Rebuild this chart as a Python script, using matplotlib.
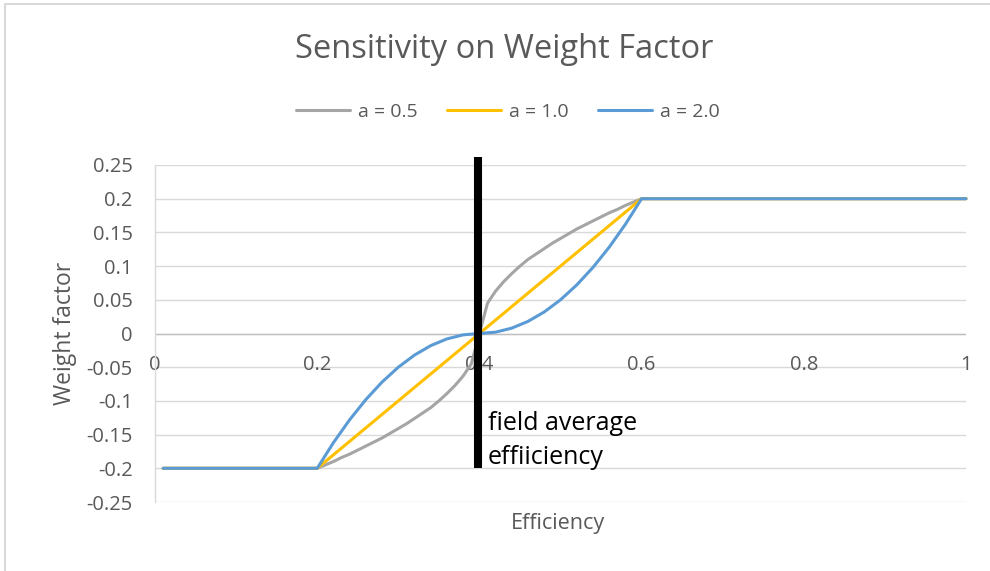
import matplotlib
matplotlib.use("Agg")
import matplotlib.pyplot as plt
from matplotlib.patches import Rectangle

# ---- data ----
efficiency = [0.01, 0.20, 0.21, 0.22, 0.23, 0.24, 0.25, 0.26, 0.27, 0.28, 0.29, 0.30,
              0.31, 0.32, 0.33, 0.34, 0.35, 0.36, 0.37, 0.38, 0.39, 0.40,
              0.41, 0.42, 0.43, 0.44, 0.45, 0.46, 0.47, 0.48, 0.49, 0.50,
              0.51, 0.52, 0.53, 0.54, 0.55, 0.56, 0.57, 0.58, 0.59, 0.60, 1.00]

w_a05 = [-0.200, -0.200, -0.195, -0.190, -0.184, -0.179, -0.173, -0.167, -0.161, -0.155, -0.148, -0.141,
         -0.134, -0.126, -0.118, -0.110, -0.100, -0.089, -0.077, -0.063, -0.045, 0.000,
         0.045, 0.063, 0.077, 0.089, 0.100, 0.110, 0.118, 0.126, 0.134, 0.141,
         0.148, 0.155, 0.161, 0.167, 0.173, 0.179, 0.184, 0.190, 0.195, 0.200, 0.200]

w_a10 = [-0.20, -0.20, -0.19, -0.18, -0.17, -0.16, -0.15, -0.14, -0.13, -0.12, -0.11, -0.10,
         -0.09, -0.08, -0.07, -0.06, -0.05, -0.04, -0.03, -0.02, -0.01, 0.00,
         0.01, 0.02, 0.03, 0.04, 0.05, 0.06, 0.07, 0.08, 0.09, 0.10,
         0.11, 0.12, 0.13, 0.14, 0.15, 0.16, 0.17, 0.18, 0.19, 0.20, 0.20]

w_a20 = [-0.200, -0.200, -0.181, -0.162, -0.145, -0.128, -0.113, -0.098, -0.085, -0.072, -0.061, -0.050,
         -0.041, -0.032, -0.025, -0.018, -0.013, -0.008, -0.005, -0.002, -0.001, 0.000,
         0.001, 0.002, 0.005, 0.008, 0.013, 0.018, 0.025, 0.032, 0.041, 0.050,
         0.061, 0.072, 0.085, 0.098, 0.113, 0.128, 0.145, 0.162, 0.181, 0.200, 0.200]

series_labels = ["a = 0.5", "a = 1.0", "a = 2.0"]
series_colors = ["#a5a5a5", "#ffc000", "#5b9bd5"]
marker_x = 0.398
marker_y = [-0.2, 0.262]
annotation = "field average\neffiiciency"
x_ticks = [0, 0.2, 0.4, 0.6, 0.8, 1]
x_tick_labels = ["0", "0.2", "0.4", "0.6", "0.8", "1"]
y_ticks = [-0.25, -0.2, -0.15, -0.1, -0.05, 0, 0.05, 0.1, 0.15, 0.2, 0.25]
y_tick_labels = ["-0.25", "-0.2", "-0.15", "-0.1", "-0.05", "0", "0.05", "0.1", "0.15", "0.2", "0.25"]

plt.rcParams["font.family"] = ["Open Sans", "DejaVu Sans"]
txt = "#595959"

fig = plt.figure(figsize=(9.9, 5.71), dpi=100)
fig.patches.append(Rectangle((5/990, -0.1), 1.2, 1 - 4/571 + 0.1, transform=fig.transFigure,
                             facecolor="white", edgecolor="#d9d9d9", lw=1.5, zorder=-10))
ax = fig.add_axes([155/990, 1 - 502/571, (966 - 155)/990, (502 - 165)/571])
ax.set_xlim(0, 1)
ax.set_ylim(-0.25, 0.25)
ax.set_facecolor("none")

for yt in y_ticks:
    ax.axhline(yt, color="#d9d9d9", lw=1, zorder=0)
ax.axhline(0, color="#bfbfbf", lw=1, zorder=0.5)
for s in ["top", "right", "bottom"]:
    ax.spines[s].set_visible(False)
ax.spines["left"].set_color("#d9d9d9")
ax.spines["left"].set_linewidth(1)

lines = []
for ys, lab, col in zip([w_a05, w_a10, w_a20], series_labels, series_colors):
    ln, = ax.plot(efficiency, ys, color=col, lw=2.2, label=lab, solid_capstyle="round",
                  solid_joinstyle="round", zorder=2, clip_on=False)
    lines.append(ln)

ax.plot([marker_x, marker_x], marker_y, color="black", lw=5.8, zorder=3, clip_on=False,
        solid_capstyle="butt")
ax.text(0.41, -0.159, annotation, fontsize=18, color="black", va="center", ha="left",
        linespacing=1.45, zorder=4)

ax.set_yticks(y_ticks)
ax.set_yticklabels(y_tick_labels, color=txt, fontsize=14.5)
ax.tick_params(axis="y", length=0, pad=16)
ax.set_xticks([])
for xt, xl in zip(x_ticks, x_tick_labels):
    ax.text(xt, -0.046, xl, ha="center", va="center", color=txt, fontsize=14.5, zorder=1)

fig.text(65/990, 1 - 333/571, "Weight factor", ha="center", va="center", rotation=90,
         color=txt, fontsize=16.5)
fig.text(558/990, 1 - 524/571, "Efficiency", ha="center", va="center", color=txt, fontsize=15.5)
fig.text(504/990, 1 - 49/571, "Sensitivity on Weight Factor", ha="center", va="center",
         color=txt, fontsize=23.5)
fig.legend(handles=lines, loc="center", bbox_to_anchor=(508/990, 1 - 112/571), ncol=3,
           frameon=False, fontsize=14, handlelength=2.8, handletextpad=0.4, columnspacing=1.5,
           labelcolor=txt)

fig.savefig("out.png", dpi=100)
